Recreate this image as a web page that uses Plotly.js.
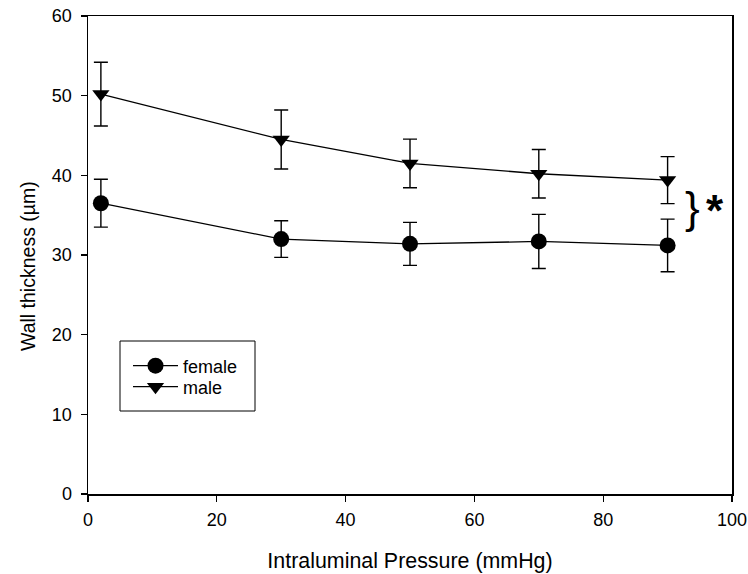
<!DOCTYPE html>
<html>
<head>
<meta charset="utf-8">
<script src="https://cdn.plot.ly/plotly-3.0.1.min.js"></script>
<style>html,body{margin:0;padding:0;background:#fff;}#chart{width:748px;height:574px;}</style>
</head>
<body>
<div id="chart"></div>
<script>
var pressure = [2, 30, 50, 70, 90];
var femaleMean = [36.5, 32.0, 31.4, 31.7, 31.2];
var femaleErr = [3.0, 2.3, 2.7, 3.4, 3.3];
var maleMean = [50.2, 44.5, 41.5, 40.2, 39.4];
var maleErr = [4.0, 3.7, 3.05, 3.05, 2.95];
var seriesNames = ['female', 'male'];
var xTitle = 'Intraluminal Pressure (mmHg)';
var yTitle = 'Wall thickness (µm)';

var font = 'Liberation Sans, Arial, sans-serif';
var W = 748, H = 574, ML = 88, MR = 16, MT = 16, MB = 80;
var plotW = W - ML - MR, plotH = H - MT - MB;
function px(x) { return (x - ML) / plotW; }
function py(y) { return 1 - (y - MT) / plotH; }

var traces = [
  {
    x: pressure, y: femaleMean, name: seriesNames[0], type: 'scatter', mode: 'lines+markers',
    line: {color: '#000', width: 1.3},
    marker: {symbol: 'circle', size: 16, color: '#000'},
    error_y: {type: 'data', array: femaleErr, visible: true, color: '#000', thickness: 1.4, width: 7},
    legend: 'legend'
  },
  {
    x: pressure, y: maleMean, name: seriesNames[1], type: 'scatter', mode: 'lines+markers',
    line: {color: '#000', width: 1.3},
    marker: {symbol: 'triangle-down', size: 15, color: '#000'},
    error_y: {type: 'data', array: maleErr, visible: true, color: '#000', thickness: 1.4, width: 7},
    legend: 'legend2'
  }
];

var legendStyle = function (yc) {
  return {
    x: px(128), y: py(yc), xanchor: 'left', yanchor: 'middle',
    xref: 'paper', yref: 'paper',
    bgcolor: 'rgba(0,0,0,0)', borderwidth: 0, itemwidth: 45,
    font: {family: font, size: 18, color: '#000'}
  };
};

var layout = {
  width: W, height: H,
  margin: {l: ML, r: MR, t: MT, b: MB, pad: 0},
  paper_bgcolor: '#fff', plot_bgcolor: '#fff',
  font: {family: font, size: 18, color: '#000'},
  showlegend: true,
  legend: legendStyle(366),
  legend2: legendStyle(387),
  xaxis: {
    range: [0, 100], dtick: 20, tick0: 0,
    showgrid: false, zeroline: false,
    showline: true, linecolor: '#000', linewidth: 1.5, mirror: true,
    ticks: 'outside', ticklen: 6, tickwidth: 1.3, tickcolor: '#000',
    ticklabelstandoff: 3,
    tickfont: {family: font, size: 18, color: '#000'},
    title: {text: xTitle, font: {family: font, size: 21.4, color: '#000'}, standoff: 24}
  },
  yaxis: {
    range: [0, 60], dtick: 10, tick0: 0,
    showgrid: false, zeroline: false,
    showline: true, linecolor: '#000', linewidth: 1.5, mirror: true,
    ticks: 'outside', ticklen: 6, tickwidth: 1.3, tickcolor: '#000',
    ticklabelstandoff: 5,
    tickfont: {family: font, size: 18, color: '#000'}
  },
  shapes: [
    {type: 'rect', xref: 'paper', yref: 'paper', x0: px(120), x1: px(255), y0: py(341), y1: py(411),
     line: {color: '#000', width: 1}, fillcolor: 'rgba(0,0,0,0)', layer: 'above'}
  ],
  annotations: [
    {text: yTitle, xref: 'paper', yref: 'paper', x: px(28), y: py(266), textangle: -90,
     xanchor: 'center', yanchor: 'middle',
     showarrow: false, font: {family: font, size: 19.5, color: '#000'}},
    {text: '}', xref: 'x', yref: 'y', x: 93.8, y: 36.0, showarrow: false,
     font: {family: font, size: 44, color: '#000'}},
    {text: '<b>*</b>', xref: 'x', yref: 'y', x: 97.3, y: 35.6, showarrow: false,
     font: {family: font, size: 44, color: '#000'}}
  ]
};

Plotly.newPlot('chart', traces, layout, {displayModeBar: false, staticPlot: true});
</script>
</body>
</html>
